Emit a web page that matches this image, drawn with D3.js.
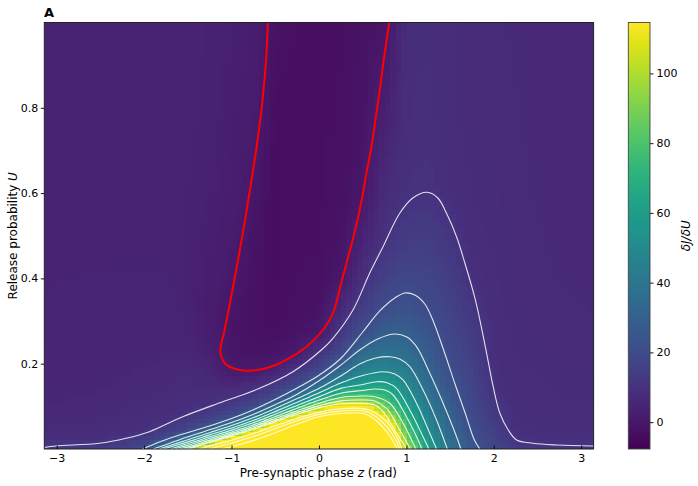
<!DOCTYPE html>
<html><head><meta charset="utf-8">
<script src="https://cdn.jsdelivr.net/npm/d3@7"></script>
<style>body{margin:0;background:#fff} svg{display:block} text{font-family:"DejaVu Sans",sans-serif}</style>
</head><body><svg id="c" width="698" height="486"></svg>
<script>
// ---------- DATA ----------
const xTicks = [-3, -2, -1, 0, 1, 2, 3];
const yTicks = [0.2, 0.4, 0.6, 0.8];
const cbarTicks = [0, 20, 40, 60, 80, 100];
const colorMin = -7.7, colorMax = 114.6;

// grid of dJ/dU values (columns = phase z, entries = release probability U)
const phaseGrid = [-3.1416, -2.5, -2.0, -1.75, -1.5, -1.25, -1.0, -0.75, -0.5, -0.25, 0, 0.25, 0.5, 0.75, 1.0, 1.25, 1.5, 1.75, 2.0, 2.25, 2.5, 2.75, 3.1416];
const releaseGrid = [0, 0.02, 0.04, 0.06, 0.08, 0.1, 0.12, 0.15, 0.18, 0.22, 0.27, 0.33, 0.4, 0.5, 0.6, 0.75, 1.0];
const fieldValues = [
  [15, 8.5, 7, 6.5, 6, 5.8, 5.5, 5.2, 5, 4.8, 4.5, 4.3, 4.2, 4, 4, 4, 4],
  [14, 9, 7.5, 7, 6.5, 6, 5.8, 5.5, 5.2, 5, 4.8, 4.5, 4.3, 4.1, 4, 4, 4],
  [20, 14.5, 9.5, 8.5, 7.8, 7.3, 6.8, 6.2, 5.8, 5.3, 4.8, 4.5, 4.3, 4.1, 4, 4, 4],
  [52, 20.5, 14.7, 9.8, 8.5, 7.7, 7.2, 6.6, 6.1, 5.5, 5, 4.6, 4.3, 4.1, 4, 4, 4],
  [95, 42, 19.5, 14.8, 10, 8.8, 8, 7.2, 6.5, 5.5, 4.5, 4, 3.8, 3.7, 3.8, 3.9, 4],
  [135, 83, 37, 18.7, 14.2, 10, 8.5, 7, 5.5, 3.5, 2, 1.8, 2.3, 2.8, 3.2, 3.5, 3.7],
  [165, 125, 70, 33, 18.2, 13.9, 9.7, 5.6, 1.4, -0.8, -1.2, -0.8, 0.3, 1.5, 2.2, 2.8, 3.2],
  [190, 150, 118, 64, 31.5, 18.2, 13.8, 7.3, 1, -1.5, -2.2, -2.5, -2.2, -1.5, -0.5, 1.2, 2.5],
  [210, 190, 150, 117, 63, 34, 19.2, 12.5, 4.4, -1.5, -2.8, -3.3, -3.5, -3.6, -3.6, -3.5, -2],
  [220, 210, 190, 138, 105, 63, 38, 18.5, 12, 1.4, -1.5, -2.5, -2.8, -3, -3, -3, -3],
  [230, 225, 215, 195, 132, 95, 64, 34.5, 18.6, 11.4, 0, -2, -2.8, -3, -3, -3, -3],
  [230, 228, 222, 210, 150, 118, 82, 54, 34.5, 19.2, 12.1, 5.8, -0.3, -2, -2.5, -2.8, -3],
  [230, 229, 225, 215, 150, 118, 85.5, 60.5, 47.8, 36.3, 21.4, 14.5, 8.8, 3.7, -0.5, -1.5, -2],
  [200, 180, 150, 128, 107.5, 87.2, 77, 63.4, 50.3, 39.1, 29.1, 20.5, 15.5, 9.6, 7.3, 3.8, -1.5],
  [101, 89.7, 82.8, 76, 69.3, 62.4, 57, 50.2, 44.1, 37.1, 29.3, 23.5, 18.3, 13.4, 9.7, 8.5, 8],
  [62, 56.4, 51.7, 48.1, 45, 42.1, 39.2, 35, 31, 27.6, 24, 19.9, 17.3, 13.7, 10.1, 9, 8.5],
  [38, 35.5, 33, 30.7, 29.1, 27.6, 26, 23.7, 21.5, 19.4, 17.9, 16.1, 14, 11, 8.8, 8, 7.5],
  [24.5, 23, 21.5, 19.9, 19.2, 18.6, 18, 17.1, 16.1, 14.9, 13.4, 11.5, 9.4, 8, 7.3, 7, 6.8],
  [18, 16.5, 15, 13.8, 12.8, 11.8, 10.6, 9.5, 9, 8.6, 8.3, 8, 7.7, 7.4, 7.2, 7, 6.8],
  [13, 10.5, 9.3, 8.8, 8.5, 8.3, 8.1, 7.9, 7.7, 7.5, 7.3, 7.2, 7, 6.9, 6.8, 6.7, 6.6],
  [11.5, 9.5, 8.8, 8.4, 8.2, 8, 7.9, 7.7, 7.5, 7.3, 7.1, 7, 6.9, 6.7, 6.6, 6.5, 6.5],
  [11, 9.3, 8.6, 8.2, 8, 7.8, 7.6, 7.4, 7.2, 7, 6.9, 6.8, 6.6, 6.5, 6.4, 6.3, 6.3],
  [10.8, 9.1, 8.4, 8, 7.8, 7.6, 7.4, 7.2, 7, 6.8, 6.7, 6.6, 6.4, 6.3, 6.2, 6.1, 6]
];

// contour lines [z, U]
const contour0 = [[-0.584,1.0],[-0.605,0.9121],[-0.645,0.8183],[-0.702,0.7245],[-0.771,0.6307],[-0.845,0.5369],[-0.926,0.4431],[-1.011,0.3494],[-1.092,0.2673],[-1.126,0.2392],[-1.120,0.2181],[-1.069,0.1993],[-0.977,0.1888],[-0.832,0.1836],[-0.603,0.1892],[-0.373,0.2087],[-0.144,0.2399],[0.046,0.2790],[0.160,0.3182],[0.257,0.3916],[0.340,0.4549],[0.420,0.5182],[0.489,0.5838],[0.546,0.6495],[0.604,0.7128],[0.649,0.7761],[0.696,0.8417],[0.741,0.9121],[0.804,1.0]];
const contour10 = [[-3.1416,0.0035],[-3.008,0.0070],[-2.512,0.0134],[-2.206,0.0251],[-1.939,0.0406],[-1.558,0.0757],[-1.100,0.1109],[-0.679,0.1423],[-0.298,0.1812],[0.027,0.2321],[0.160,0.2596],[0.389,0.3259],[0.581,0.4127],[0.733,0.4743],[0.924,0.5526],[1.073,0.5885],[1.237,0.6019],[1.360,0.5885],[1.459,0.5526],[1.574,0.4978],[1.669,0.4361],[1.784,0.3540],[1.841,0.3024],[1.918,0.2244],[1.993,0.1461],[2.070,0.0837],[2.165,0.0445],[2.261,0.0211],[2.448,0.0134],[2.719,0.0094],[3.1416,0.0070]];
const contour20 = [[-2.019,0],[-1.825,0.0164],[-1.596,0.0328],[-1.252,0.0539],[-1.000,0.0715],[-0.748,0.0921],[-0.496,0.1165],[-0.250,0.1430],[-0.003,0.1723],[0.249,0.2122],[0.501,0.2743],[0.696,0.3236],[0.867,0.3540],[0.982,0.3658],[1.096,0.3611],[1.211,0.3400],[1.302,0.3025],[1.434,0.2274],[1.560,0.1501],[1.680,0.0797],[1.778,0.0211],[1.841,0]];
const contour30 = [[-1.894,0],[-1.653,0.0174],[-1.447,0.0320],[-1.252,0.0449],[-1.000,0.0619],[-0.748,0.0814],[-0.496,0.1043],[-0.250,0.1285],[-0.003,0.1594],[0.237,0.1946],[0.466,0.2321],[0.672,0.2579],[0.867,0.2696],[1.005,0.2626],[1.116,0.2399],[1.268,0.1775],[1.420,0.1072],[1.574,0.0288],[1.623,0]];
const contour40 = [[-1.825,0],[-1.619,0.0138],[-1.447,0.0254],[-1.252,0.0383],[-1.000,0.0549],[-0.748,0.0736],[-0.496,0.0954],[-0.250,0.1182],[-0.003,0.1416],[0.249,0.1712],[0.466,0.1993],[0.649,0.2134],[0.810,0.2164],[0.924,0.2110],[1.039,0.1930],[1.191,0.1383],[1.345,0.0680],[1.459,0.0054],[1.469,0]];
const contour50 = [[-1.779,0],[-1.596,0.0110],[-1.447,0.0202],[-1.252,0.0331],[-1.000,0.0492],[-0.748,0.0673],[-0.496,0.0882],[-0.250,0.1095],[-0.003,0.1311],[0.249,0.1545],[0.501,0.1723],[0.733,0.1812],[0.867,0.1759],[0.962,0.1618],[1.116,0.1072],[1.268,0.0368],[1.345,0]];
const contour60 = [[-1.699,0],[-1.573,0.0082],[-1.447,0.0156],[-1.252,0.0285],[-1.000,0.0443],[-0.748,0.0619],[-0.496,0.0821],[-0.250,0.1022],[-0.003,0.1222],[0.249,0.1421],[0.501,0.1512],[0.658,0.1578],[0.787,0.1548],[0.887,0.1423],[1.039,0.0914],[1.191,0.0288],[1.257,0]];
const contour70 = [[-1.653,0],[-1.447,0.0115],[-1.252,0.0244],[-1.000,0.0399],[-0.748,0.0570],[-0.496,0.0764],[-0.250,0.0957],[-0.003,0.1142],[0.249,0.1308],[0.501,0.1372],[0.638,0.1407],[0.753,0.1383],[0.848,0.1266],[1.001,0.0757],[1.134,0.0211],[1.176,0]];
const contour80 = [[-1.596,0],[-1.447,0.0077],[-1.252,0.0206],[-1.000,0.0361],[-0.748,0.0528],[-0.496,0.0715],[-0.250,0.0898],[-0.003,0.1069],[0.249,0.1208],[0.501,0.1243],[0.638,0.1226],[0.810,0.1072],[0.962,0.0603],[1.096,0.0054],[1.108,0]];
const contour90 = [[-1.538,0],[-1.447,0.0049],[-1.252,0.0178],[-1.000,0.0328],[-0.748,0.0492],[-0.496,0.0675],[-0.250,0.0853],[-0.003,0.1011],[0.249,0.1128],[0.501,0.1149],[0.638,0.1125],[0.772,0.0954],[0.924,0.0445],[1.039,0.0023],[1.045,0]];
const contour100 = [[-1.493,0],[-1.447,0.0025],[-1.252,0.0154],[-1.000,0.0302],[-0.748,0.0462],[-0.496,0.0642],[-0.250,0.0814],[-0.003,0.0964],[0.249,0.1060],[0.501,0.1067],[0.638,0.1032],[0.733,0.0875],[0.887,0.0368],[1.001,0.0012],[1.005,0]];
const contour120 = [[-1.367,0],[-1.252,0.0070],[-1.000,0.0204],[-0.748,0.0363],[-0.496,0.0546],[-0.250,0.0717],[-0.003,0.0863],[0.249,0.0943],[0.501,0.0947],[0.615,0.0879],[0.741,0.0703],[0.844,0.0445],[0.913,0.0188],[0.947,0]];
const contour130 = [[-1.252,0],[-1.000,0.0141],[-0.748,0.0293],[-0.496,0.0481],[-0.250,0.0664],[-0.003,0.0811],[0.249,0.0891],[0.501,0.0896],[0.604,0.0821],[0.718,0.0645],[0.821,0.0399],[0.890,0.0164],[0.924,0]];
const contour140 = [[-1.115,0],[-0.908,0.0106],[-0.679,0.0246],[-0.450,0.0422],[-0.221,0.0605],[-0.003,0.0755],[0.249,0.0832],[0.501,0.0839],[0.592,0.0762],[0.696,0.0586],[0.798,0.0340],[0.867,0.0117],[0.896,0]];

// ---------- DRAW ----------
const svg = d3.select('#c');
const M = {l: 44.3, r: 593.6, t: 22.5, b: 449};
const x = d3.scaleLinear().domain([-Math.PI, Math.PI]).range([M.l, M.r]);
const y = d3.scaleLinear().domain([0, 1]).range([M.b, M.t]);
const cNorm = d3.scaleLinear().domain([colorMin, colorMax]).range([0, 1]).clamp(true);
const color = v => d3.interpolateViridis(cNorm(v));

function bracket(arr, v) {
  let i = d3.bisectRight(arr, v) - 1;
  i = Math.max(0, Math.min(arr.length - 2, i));
  const t = (v - arr[i]) / (arr[i + 1] - arr[i]);
  return [i, Math.max(0, Math.min(1, t))];
}
function fieldAt(z, u) {
  const [i, tx] = bracket(phaseGrid, z);
  const [j, ty] = bracket(releaseGrid, u);
  const a = fieldValues[i][j], b = fieldValues[i + 1][j], c = fieldValues[i][j + 1], d = fieldValues[i + 1][j + 1];
  return a * (1 - tx) * (1 - ty) + b * tx * (1 - ty) + c * (1 - tx) * ty + d * tx * ty;
}

const NX = 100, NY = 100;
const cv = document.createElement('canvas'); cv.width = NX; cv.height = NY;
const ctx = cv.getContext('2d');
const img = ctx.createImageData(NX, NY);
for (let r = 0; r < NY; r++) for (let c = 0; c < NX; c++) {
  const z = x.invert(M.l + (c + 0.5) * (M.r - M.l) / NX);
  const u = y.invert(M.t + (r + 0.5) * (M.b - M.t) / NY);
  const col = d3.rgb(color(fieldAt(z, u)));
  const k = 4 * (r * NX + c);
  img.data[k] = col.r; img.data[k + 1] = col.g; img.data[k + 2] = col.b; img.data[k + 3] = 255;
}
ctx.putImageData(img, 0, 0);

const defs = svg.append('defs');
defs.append('clipPath').attr('id', 'clip').append('rect')
  .attr('x', M.l).attr('y', M.t).attr('width', M.r - M.l).attr('height', M.b - M.t);

svg.append('image').attr('href', cv.toDataURL())
  .attr('x', M.l).attr('y', M.t).attr('width', M.r - M.l).attr('height', M.b - M.t)
  .attr('preserveAspectRatio', 'none').style('image-rendering', 'pixelated');

const line = d3.line().x(d => x(d[0])).y(d => y(d[1])).curve(d3.curveCatmullRom.alpha(0.5));
const whiteContours = [contour10, contour20, contour30, contour40, contour50, contour60, contour70, contour80, contour90, contour100, contour120, contour130, contour140];
const gC = svg.append('g').attr('clip-path', 'url(#clip)');
gC.selectAll('path.w').data(whiteContours).join('path').attr('class', 'w')
  .attr('d', line).attr('fill', 'none').attr('stroke', '#ffffff').attr('stroke-opacity', 0.85).attr('stroke-width', 1.1);
gC.append('path').datum(contour0).attr('d', line).attr('fill', 'none').attr('stroke', '#ff0000').attr('stroke-width', 2);

// frame
svg.append('rect').attr('x', M.l).attr('y', M.t).attr('width', M.r - M.l).attr('height', M.b - M.t)
  .attr('fill', 'none').attr('stroke', '#222').attr('stroke-width', 1);

// axes
const xAxis = svg.append('g').attr('transform', `translate(0,${M.b})`)
  .call(d3.axisBottom(x).tickValues(xTicks).tickSize(-3.5).tickPadding(5).tickFormat(d => d < 0 ? '\u2212' + Math.abs(d) : d));
const yAxis = svg.append('g').attr('transform', `translate(${M.l},0)`)
  .call(d3.axisLeft(y).tickValues(yTicks).tickSize(3.5).tickPadding(2.5).tickFormat(d3.format('.1f')));
[xAxis, yAxis].forEach(g => {
  g.select('.domain').remove();
  g.selectAll('text').attr('font-size', 11).attr('fill', '#000').attr('font-family', 'DejaVu Sans');
  g.selectAll('line').attr('stroke', '#000').attr('stroke-width', 0.9);
});

// labels
const xl = svg.append('text').attr('x', (M.l + M.r) / 2 - 0.5).attr('y', 477).attr('text-anchor', 'middle').attr('font-size', 12);
xl.append('tspan').text('Pre-synaptic phase ');
xl.append('tspan').attr('font-style', 'italic').text('z');
xl.append('tspan').text(' (rad)');
const yl = svg.append('text').attr('transform', `translate(17,${(M.t + M.b) / 2}) rotate(-90)`).attr('text-anchor', 'middle').attr('font-size', 12);
yl.append('tspan').text('Release probability ');
yl.append('tspan').attr('font-style', 'italic').text('U');
svg.append('text').attr('x', 44).attr('y', 17).attr('font-size', 13).attr('font-weight', 'bold').text('A');

// colorbar
const CB = {l: 628.3, r: 650, t: M.t, b: M.b};
const cScale = d3.scaleLinear().domain([colorMin, colorMax]).range([CB.b, CB.t]);
const grad = defs.append('linearGradient').attr('id', 'vir').attr('x1', 0).attr('y1', 1).attr('x2', 0).attr('y2', 0);
d3.range(0, 1.0001, 0.05).forEach(t => grad.append('stop').attr('offset', t).attr('stop-color', d3.interpolateViridis(t)));
svg.append('rect').attr('x', CB.l).attr('y', CB.t).attr('width', CB.r - CB.l).attr('height', CB.b - CB.t)
  .attr('fill', 'url(#vir)').attr('stroke', '#444').attr('stroke-width', 0.9);
const cAxis = svg.append('g').attr('transform', `translate(${CB.r},0)`)
  .call(d3.axisRight(cScale).tickValues(cbarTicks).tickSize(3.5).tickPadding(3));
cAxis.select('.domain').remove();
cAxis.selectAll('text').attr('font-size', 11).attr('fill', '#000').attr('font-family', 'DejaVu Sans');
cAxis.selectAll('line').attr('stroke', '#000').attr('stroke-width', 0.9);
svg.append('text').attr('transform', `translate(690,${(CB.t + CB.b) / 2}) rotate(-90)`).attr('text-anchor', 'middle')
  .attr('font-size', 12).attr('font-style', 'italic').text('\u03b4J/\u03b4U');
</script></body></html>
